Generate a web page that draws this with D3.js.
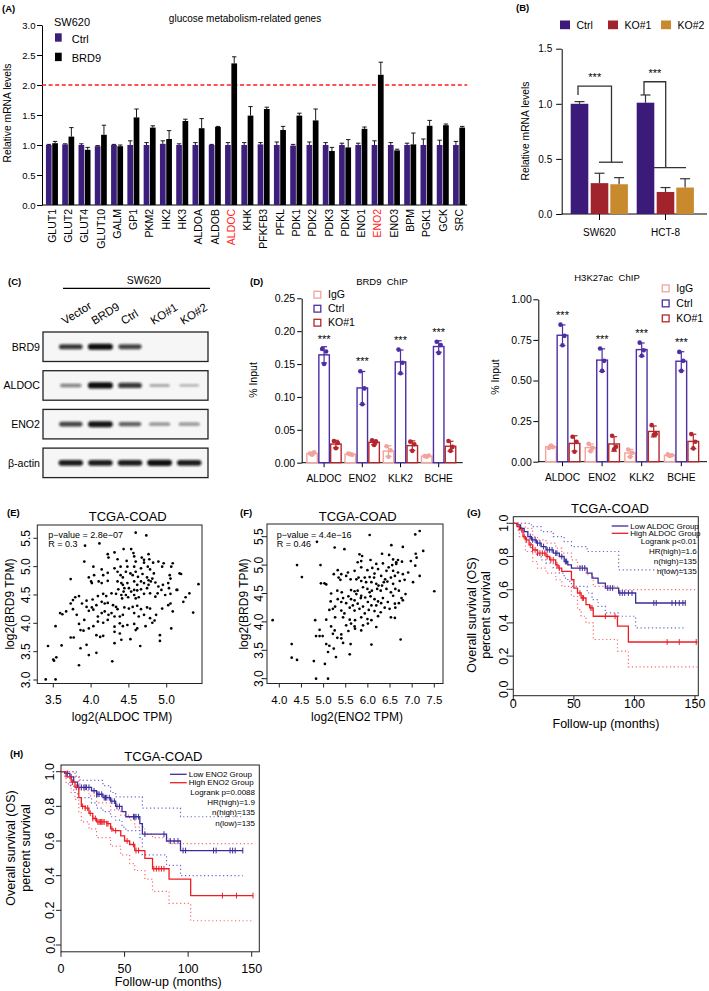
<!DOCTYPE html>
<html><head><meta charset="utf-8">
<script src="https://cdn.jsdelivr.net/npm/d3@7"></script>
<style>body{margin:0;background:#fff}svg{display:block}</style>
</head><body>
<script>
// ---------------- DATA ----------------
// Panel A
const genes = ["GLUT1","GLUT2","GLUT4","GLUT10","GALM","GP1","PKM2","HK2","HK3","ALDOA","ALDOB","ALDOC","KHK","PFKFB3","PFKL","PDK1","PDK2","PDK3","PDK4","ENO1","ENO2","ENO3","BPM","PGK1","GCK","SRC"];
const aCtrl    = [1.00,1.01,1.00,0.98,1.00,1.00,1.00,1.02,1.00,1.00,1.00,1.00,1.00,1.01,1.00,0.99,1.00,1.00,1.00,1.00,1.00,1.00,1.00,1.00,1.00,1.00];
const aCtrlErr = [0.01,0.01,0.02,0.01,0.01,0.07,0.04,0.05,0.02,0.04,0.01,0.04,0.04,0.03,0.05,0.02,0.05,0.04,0.03,0.03,0.07,0.04,0.03,0.10,0.08,0.06];
const aBRD9    = [1.03,1.14,0.92,1.17,0.98,1.46,1.29,1.10,1.40,1.28,1.30,2.36,1.49,1.60,1.25,1.49,1.41,0.90,0.96,1.27,2.17,0.91,1.01,1.32,1.33,1.29];
const aBRD9Err = [0.03,0.15,0.04,0.16,0.02,0.14,0.03,0.14,0.03,0.16,0.01,0.11,0.15,0.03,0.06,0.04,0.19,0.06,0.13,0.03,0.21,0.02,0.19,0.09,0.02,0.02];
const aHighlight = ["ALDOC","ENO2"];
const aTicks = [0,0.5,1.0,1.5,2.0,2.5,3.0];
const aThreshold = 2.0;

// Panel B
const bCells = ["SW620","HCT-8"];
const bGroups = ["Ctrl","KO#1","KO#2"];
const bCtrl = [1.00,1.01], bCtrlErr = [0.02,0.07];
const bKO1  = [0.28,0.20], bKO1Err  = [0.09,0.04];
const bKO2  = [0.27,0.24], bKO2Err  = [0.06,0.08];
const bTicks = [0,0.5,1.0,1.5];
const bBracketStart = [1.08,1.08], bBracketTop = [1.16,1.20], bBracketLow = [0.47,0.42];

// Panel C (western blot band intensities, 0..1)
const lanes = ["Vector","BRD9","Ctrl","KO#1","KO#2"];
const blotRows = ["BRD9","ALDOC","ENO2","β-actin"];
const bandBRD9  = [0.78,1.00,0.72,0,0];
const bandALDOC = [0.40,1.00,0.78,0.22,0.15];
const bandENO2  = [0.72,0.95,0.58,0.33,0.32];
const bandActin = [0.92,0.92,0.92,0.98,0.92];

// Panel D (ChIP-qPCR replicates, % input)
const chipTargets = ["ALDOC","ENO2","KLK2","BCHE"];
const chipGroups = ["IgG","Ctrl","KO#1"];
const brd9IgG  = [[0.014,0.016,0.012],[0.014,0.012,0.013],[0.025,0.019,0.009],[0.010,0.011,0.009]];
const brd9Ctrl = [[0.173,0.169,0.150],[0.139,0.113,0.089],[0.172,0.152,0.136],[0.184,0.179,0.167]];
const brd9KO   = [[0.033,0.030,0.022],[0.034,0.032,0.027],[0.032,0.028,0.018],[0.033,0.024,0.018]];
const h3IgG    = [[0.085,0.090,0.100],[0.110,0.085,0.065],[0.075,0.055,0.030],[0.045,0.040,0.035]];
const h3Ctrl   = [[0.844,0.775,0.717],[0.697,0.621,0.559],[0.733,0.686,0.652],[0.676,0.621,0.559]];
const h3KO     = [[0.154,0.123,0.061],[0.160,0.092,0.076],[0.225,0.170,0.164],[0.170,0.123,0.082]];
const brd9Ticks = [0,0.05,0.10,0.15,0.20,0.25];
const h3Ticks = [0,0.25,0.50,0.75,1.00];

// Panel E: log2(ALDOC TPM) vs log2(BRD9 TPM)
const scatterE = [
[4.59,5.60],[4.73,5.55],[3.92,5.37],[4.11,5.41],[4.43,5.31],[4.53,5.31],
[4.22,5.22],[4.31,5.25],[4.56,5.24],[4.57,5.18],[4.67,5.16],[4.76,5.22],[4.23,5.16],[4.35,5.13],[4.70,5.12],[4.77,5.13],
[3.91,5.09],[4.47,5.10],[4.59,5.09],[4.70,5.07],[4.82,5.07],[4.89,5.09],[4.96,5.06],[5.08,5.06],[4.14,4.95],[4.03,5.00],[4.31,4.97],[4.39,5.00],[4.48,5.00],[4.57,5.00],[4.66,4.97],[4.75,5.00],[4.78,4.95],[4.94,5.00],[5.06,5.00],
[3.73,4.78],[3.97,4.81],[4.00,4.74],[4.04,4.85],[4.16,4.85],[4.22,4.89],[4.35,4.91],[4.39,4.85],[4.42,4.81],[4.46,4.91],[4.52,4.88],[4.55,4.85],[4.59,4.91],[4.62,4.82],[4.68,4.87],[4.74,4.81],[4.76,4.76],[4.81,4.79],[4.83,4.88],[5.04,4.85],[5.05,4.79],[5.17,4.88],[5.19,4.87],
[4.01,4.71],[4.10,4.74],[4.14,4.71],[4.22,4.75],[4.35,4.74],[4.40,4.71],[4.42,4.68],[4.48,4.71],[4.57,4.74],[4.61,4.68],[4.66,4.74],[4.70,4.71],[4.76,4.68],[4.79,4.74],[4.85,4.72],[4.89,4.65],[4.93,4.59],[4.95,4.68],[5.02,4.71],[5.03,4.62],[5.13,4.59],[4.36,4.60],[4.44,4.62],[4.50,4.62],[4.57,4.59],[4.43,4.56],[4.53,4.56],[4.61,4.58],[4.66,4.60],[4.74,4.62],
[3.84,4.48],[3.94,4.40],[4.02,4.42],[4.09,4.48],[4.16,4.52],[4.20,4.48],[4.27,4.53],[4.33,4.52],[4.40,4.50],[4.41,4.44],[4.46,4.50],[4.49,4.46],[4.57,4.50],[4.59,4.44],[4.63,4.46],[4.70,4.52],[4.78,4.53],[4.85,4.47],[4.88,4.53],[4.98,4.50],[5.05,4.52],[5.14,4.59],[5.25,4.46],[5.30,4.53],[5.42,4.69],[5.22,4.38],[5.05,4.35],[5.35,4.19],
[3.73,4.35],[3.76,4.41],[3.79,4.46],[3.76,4.25],[3.88,4.35],[3.94,4.29],[4.01,4.28],[4.07,4.32],[4.14,4.38],[4.18,4.35],[4.22,4.36],[4.29,4.32],[4.33,4.29],[4.35,4.25],[4.44,4.28],[4.50,4.26],[4.55,4.29],[4.61,4.31],[4.66,4.25],[4.74,4.28],[4.78,4.26],[4.94,4.26],[5.02,4.32],
[3.59,4.18],[3.62,4.16],[3.67,4.21],[3.81,4.15],[3.97,4.22],[4.03,4.24],[4.09,4.12],[4.14,4.18],[4.18,4.21],[4.23,4.15],[4.27,4.18],[4.31,4.12],[4.38,4.12],[4.42,4.15],[4.57,4.18],[4.63,4.12],[4.70,4.15],[4.78,4.09],[4.86,4.15],[5.08,4.21],
[3.53,3.95],[3.84,3.99],[3.91,4.06],[3.97,3.91],[4.03,3.95],[4.09,4.03],[4.16,4.01],[4.22,4.06],[4.31,3.94],[4.38,4.00],[4.42,3.95],[4.48,3.97],[4.57,3.99],[4.61,3.91],[4.72,3.95],[4.81,4.01],[4.84,4.05],[5.06,3.91],
[3.73,3.75],[3.77,3.75],[3.86,3.88],[3.90,3.87],[4.07,3.79],[4.12,3.76],[4.16,3.78],[4.31,3.85],[4.38,3.82],[4.52,3.72],[4.59,3.88],[4.91,3.79],
[3.43,3.60],[3.61,3.61],[3.86,3.56],[3.94,3.62],[4.07,3.48],[4.31,3.65],[4.40,3.71],[4.65,3.60],[4.91,3.69],[3.97,3.44],
[3.50,3.36],[3.54,3.40],[3.51,3.34],[3.84,3.26],[4.28,3.33],[3.40,3.01],[3.53,3.01]
];
const eXTicks = [3.5,4.0,4.5,5.0];

// Panel F: log2(ENO2 TPM) vs log2(BRD9 TPM)
const scatterF = [
[7.17,5.60],[7.07,5.54],[6.04,5.53],[4.85,5.41],[7.25,5.25],[5.25,5.31],[5.47,5.28],[6.53,5.35],[6.79,5.32],
[5.81,5.19],[5.87,5.16],[6.32,5.20],[6.48,5.18],[7.08,5.20],[7.10,5.13],[5.85,5.07],[5.77,5.05],[6.06,5.09],[6.57,5.10],[6.68,5.09],[6.77,5.06],[6.64,5.05],[6.97,5.07],
[4.40,5.00],[4.93,5.00],[6.19,5.02],[6.34,5.03],[6.47,4.96],[6.55,5.00],[6.64,5.02],[5.32,4.91],[5.23,4.84],[5.40,4.84],[5.55,4.87],[5.70,4.90],[5.85,4.96],[5.99,4.91],[6.10,4.95],[6.15,4.85],[6.23,4.93],[6.42,4.90],[6.57,4.90],[6.68,4.87],[6.79,4.84],[6.91,4.87],[7.07,4.99],
[4.51,4.79],[5.34,4.78],[5.38,4.74],[5.51,4.81],[5.61,4.75],[5.74,4.75],[5.79,4.78],[5.93,4.78],[6.04,4.79],[6.14,4.78],[6.30,4.81],[6.39,4.75],[6.52,4.78],[6.61,4.81],[6.72,4.72],[7.02,4.70],[7.17,4.81],[4.94,4.68],[5.02,4.68],[5.06,4.66],[5.85,4.72],[5.96,4.70],[6.08,4.70],[6.19,4.67],[6.24,4.64],[6.32,4.64],[6.36,4.70],[6.44,4.71],[6.57,4.67],[6.83,4.74],
[7.50,4.54],[5.17,4.50],[5.31,4.55],[5.41,4.52],[5.62,4.56],[5.70,4.54],[5.77,4.55],[5.89,4.61],[5.99,4.58],[6.04,4.52],[6.09,4.55],[6.21,4.58],[6.29,4.55],[6.42,4.58],[6.52,4.52],[6.62,4.58],[6.70,4.55],[5.74,4.49],[5.85,4.46],[5.32,4.40],[5.44,4.42],[5.56,4.45],[5.62,4.40],[5.70,4.38],[5.84,4.42],[5.94,4.43],[6.06,4.45],[6.15,4.40],[6.23,4.36],[6.34,4.42],[6.57,4.46],[6.76,4.42],[6.79,4.38],[6.85,4.49],
[3.85,4.03],[5.16,4.36],[5.26,4.27],[5.40,4.35],[5.51,4.33],[5.66,4.29],[5.77,4.32],[5.89,4.27],[6.00,4.35],[6.08,4.29],[6.19,4.29],[6.30,4.33],[6.45,4.35],[6.61,4.32],[6.70,4.33],[5.13,4.21],[5.21,4.23],[5.40,4.20],[5.47,4.15],[5.59,4.25],[5.70,4.20],[5.81,4.23],[5.93,4.15],[6.02,4.21],[6.15,4.19],[6.29,4.17],[6.38,4.25],[6.49,4.23],[6.62,4.25],[6.52,4.08],[6.61,4.07],
[4.81,4.03],[5.06,4.04],[5.26,4.08],[5.44,4.08],[5.59,4.04],[5.71,4.03],[5.85,4.08],[5.99,4.05],[6.08,4.03],[6.23,4.10],[5.51,3.94],[5.62,3.97],[5.70,3.92],[5.89,3.94],[6.00,3.97],[6.19,3.91],[5.17,3.92],[5.25,3.85],[4.91,3.86],[4.83,3.75],[4.91,3.75],[4.98,3.75],[5.21,3.79],[5.40,3.78],[5.56,3.84],[5.71,3.88],[5.85,3.85],
[5.31,3.72],[5.40,3.71],[5.44,3.63],[5.61,3.61],[6.74,3.69],[5.06,3.61],[5.13,3.58],[5.10,3.47],[5.23,3.53],[5.28,3.38],[6.08,3.60],[5.59,3.43],[4.28,3.61],[4.28,3.37],[4.40,3.33],[4.78,3.31],[5.03,3.26],[4.83,3.00],[5.10,3.00]
];
const fXTicks = [4.0,4.5,5.0,5.5,6.0,6.5,7.0,7.5];
const scatterYTicks = [3.0,3.5,4.0,4.5,5.0,5.5];

// Panel G: Kaplan-Meier, ALDOC
const gLowSteps  = [[0,1.0],[3,0.99],[6,0.97],[9,0.95],[12,0.92],[15,0.90],[19,0.88],[23,0.86],[27,0.84],[33,0.82],[38,0.80],[42,0.77],[45,0.75],[48,0.73],[61,0.70],[65,0.67],[70,0.64],[76,0.61],[87,0.58],[101,0.52]];
const gLowEnd = 142;
const gLowCensor = [14,16,18,20,22,25,28,30,32,35,36,40,43,44,55,57,59,78,80,82,88,90,92,95,98,116,118,131,134,137,140,142];
const gLowUpper = [[0,1.0],[9,1.0],[15,0.98],[23,0.95],[33,0.92],[42,0.89],[48,0.86],[61,0.83],[87,0.72]];
const gLowLower = [[0,1.0],[4,0.96],[9,0.91],[15,0.84],[19,0.81],[23,0.78],[27,0.76],[33,0.73],[38,0.70],[42,0.67],[45,0.65],[48,0.62],[61,0.58],[65,0.54],[70,0.50],[76,0.46],[87,0.44],[101,0.37]];
const gHighSteps = [[0,1.0],[3,0.98],[5,0.96],[8,0.92],[10,0.90],[13,0.87],[16,0.84],[20,0.82],[27,0.80],[30,0.78],[35,0.75],[37,0.73],[40,0.71],[48,0.66],[50,0.61],[53,0.58],[56,0.55],[60,0.51],[63,0.49],[66,0.44],[86,0.38],[95,0.285]];
const gHighEnd = 152;
const gHighCensor = [7,9,11,14,16,18,20,22,24,26,28,31,33,36,38,55,57,58,64,65,76,84,127,137,151];
const gHighUpper = [[0,1.0],[5,1.0],[10,0.97],[16,0.92],[20,0.90],[27,0.88],[35,0.85],[40,0.82],[48,0.78],[53,0.74],[60,0.69],[66,0.62],[86,0.60]];
const gHighLower = [[0,1.0],[5,0.92],[10,0.83],[16,0.77],[20,0.73],[27,0.70],[35,0.66],[40,0.62],[48,0.56],[53,0.48],[56,0.44],[60,0.40],[66,0.30],[86,0.23],[95,0.135]];
const gStats = ["Logrank p<0.01","HR(high)=1.6","n(high)=135","n(low)=135"];

// Panel H: Kaplan-Meier, ENO2
const hLowSteps = [[0,1.0],[3,0.99],[7,0.97],[10,0.94],[13,0.91],[24,0.89],[28,0.87],[33,0.85],[39,0.83],[43,0.80],[48,0.77],[51,0.74],[62,0.70],[64,0.64],[83,0.60],[94,0.545]];
const hLowEnd = 143;
const hLowCensor = [5,8,14,16,18,19,20,22,26,28,29,30,32,34,35,36,38,40,42,44,46,57,58,59,61,66,81,86,89,92,96,98,120,122,133,135,137,143];
const hLowUpper = [[0,1.0],[8,1.0],[12,0.97],[15,0.95],[33,0.92],[39,0.88],[43,0.855],[64,0.79],[94,0.74]];
const hLowLower = [[0,1.0],[3,0.97],[7,0.92],[10,0.88],[13,0.85],[24,0.82],[28,0.79],[33,0.77],[39,0.74],[43,0.72],[48,0.68],[51,0.66],[62,0.62],[64,0.52],[83,0.46],[94,0.40]];
const hHighSteps = [[0,1.0],[4,0.97],[8,0.94],[11,0.91],[14,0.85],[16,0.80],[19,0.79],[22,0.76],[25,0.73],[28,0.71],[36,0.70],[39,0.67],[41,0.66],[47,0.63],[50,0.60],[54,0.58],[58,0.545],[66,0.50],[72,0.44],[85,0.38],[102,0.285]];
const hHighEnd = 151;
const hHighCensor = [9,12,17,19,21,23,25,27,29,30,31,32,33,34,36,37,40,43,52,57,59,61,73,75,77,79,81,127,138,151];
const hHighUpper = [[0,1.0],[8,1.0],[11,0.97],[14,0.93],[16,0.89],[22,0.86],[28,0.82],[39,0.78],[47,0.75],[54,0.72],[58,0.68],[66,0.64],[72,0.62],[85,0.585]];
const hHighLower = [[0,1.0],[4,0.93],[8,0.88],[11,0.84],[14,0.77],[16,0.71],[22,0.67],[28,0.62],[39,0.57],[47,0.52],[54,0.47],[58,0.43],[66,0.38],[72,0.31],[85,0.24],[102,0.14]];
const hStats = ["Logrank p=0.0088","HR(high)=1.9","n(high)=135","n(low)=135"];
const kmXTicks = [0,50,100,150];
const kmYTicks = [0,0.2,0.4,0.6,0.8,1.0];

// ---------------- DRAWING ----------------
const FONT = "'Liberation Sans', Arial, Helvetica, sans-serif";
const svg = d3.select("body").append("svg").attr("width",709).attr("height",991).style("font-family",FONT);
svg.append("rect").attr("width",709).attr("height",991).attr("fill","#fff");

function T(g,x,y,s,o={}){
  const t=g.append("text").attr("x",x).attr("y",y).text(s)
    .attr("font-size",o.size||10).attr("fill",o.fill||"#000").attr("text-anchor",o.anchor||"start");
  if(o.weight) t.attr("font-weight",o.weight);
  if(o.rotate!==undefined) t.attr("transform",`rotate(${o.rotate},${x},${y})`);
  return t;
}
function sty(sel,fs){
  sel.attr("font-family",FONT).attr("font-size",fs);
  sel.select(".domain").attr("stroke","#000").attr("stroke-width",1);
  sel.selectAll(".tick line").attr("stroke","#000").attr("stroke-width",1);
  sel.selectAll(".tick text").attr("fill","#000");
}
function L(g,x1,y1,x2,y2,c,w){return g.append("line").attr("x1",x1).attr("y1",y1).attr("x2",x2).attr("y2",y2).attr("stroke",c||"#000").attr("stroke-width",w||1);}

// panel letters
[["(A)",2,12],["(B)",516,11],["(C)",8,285],["(D)",250,285],["(E)",7,516],["(F)",240,516],["(G)",467,516],["(H)",10,757]]
 .forEach(p=>T(svg,p[1],p[2],p[0],{size:9.5,weight:"bold"}));

// ===== Panel A =====
(function(){
  const g=svg.append("g");
  const purple="#3c1f7d";
  const x=d3.scaleBand().domain(genes).range([43.8,467.2]);
  const y=d3.scaleLinear().domain([0,3]).range([205,25]);
  const axX=42;
  g.append("g").attr("transform",`translate(${axX},0)`)
   .call(d3.axisLeft(y).tickValues(aTicks).tickFormat(d3.format(".1f")).tickSize(5).tickPadding(1.5).tickSizeOuter(0))
   .call(sty,9.5);
  L(g,axX,y(0),x.range()[1],y(0));
  g.append("line").attr("x1",axX).attr("x2",x.range()[1]).attr("y1",y(aThreshold)).attr("y2",y(aThreshold))
   .attr("stroke","#ff1a1a").attr("stroke-width",1.3).attr("stroke-dasharray","4,2.6");
  const c=d=>x(d)+x.bandwidth()/2;
  const series=[{v:aCtrl,e:aCtrlErr,off:-6,col:purple},{v:aBRD9,e:aBRD9Err,off:0.3,col:"#000"}];
  series.forEach(s=>{
    g.append("g").selectAll("rect").data(genes).join("rect")
      .attr("x",d=>c(d)+s.off).attr("width",5.7)
      .attr("y",(d,i)=>y(s.v[i])).attr("height",(d,i)=>y(0)-y(s.v[i])).attr("fill",s.col);
    genes.forEach((d,i)=>{
      const cx=c(d)+s.off+2.85, top=y(s.v[i]+s.e[i]);
      L(g,cx,y(s.v[i]),cx,top,"#000",0.9);
      L(g,cx-2.2,top,cx+2.2,top,"#000",0.9);
    });
  });
  genes.forEach(d=>T(g,c(d)+3.8,209,d,{size:10.5,anchor:"end",rotate:-90,fill:aHighlight.includes(d)?"#ff1a1a":"#000"}));
  T(g,10.6,113,"Relative mRNA levels",{size:10.3,anchor:"middle",rotate:-90});
  T(g,245,21.5,"glucose metabolism-related genes",{size:10,anchor:"middle"});
  T(g,54,25.5,"SW620",{size:11});
  g.append("rect").attr("x",55).attr("y",33.3).attr("width",6.7).attr("height",8.4).attr("fill",purple);
  T(g,71.7,42.5,"Ctrl",{size:11});
  g.append("rect").attr("x",55).attr("y",52.7).attr("width",6.7).attr("height",8.4).attr("fill","#000");
  T(g,71.7,61.5,"BRD9",{size:11});
})();

// ===== Panel B =====
(function(){
  const g=svg.append("g");
  const cols=["#3c1a7a","#a1232b","#c98a2e"];
  const vals=[bCtrl,bKO1,bKO2], errs=[bCtrlErr,bKO1Err,bKO2Err];
  const offs=[-20,0,19.6], bw=17.6;
  const x=d3.scaleBand().domain(bCells).range([566.5,698.5]);
  const y=d3.scaleLinear().domain([0,1.5]).range([214,48.7]);
  const axX=561.7;
  g.append("g").attr("transform",`translate(${axX},0)`)
   .call(d3.axisLeft(y).tickValues(bTicks).tickFormat(d3.format(".1f")).tickSize(5.5).tickPadding(4).tickSizeOuter(0))
   .call(sty,10);
  const xa=g.append("g").attr("transform",`translate(0,${y(0)})`)
   .call(d3.axisBottom(x).tickSize(6).tickPadding(9).tickSizeOuter(0)).call(sty,10);
  xa.select(".domain").remove();
  L(g,axX,y(0),707,y(0));
  const c=d=>x(d)+x.bandwidth()/2;
  bCells.forEach((cell,ci)=>{
    bGroups.forEach((gr,gi)=>{
      const cx=c(cell)+offs[gi], v=vals[gi][ci], e=errs[gi][ci];
      g.append("rect").attr("x",cx-bw/2).attr("width",bw).attr("y",y(v)).attr("height",y(0)-y(v)).attr("fill",cols[gi]);
      L(g,cx,y(v),cx,y(v+e),"#333",1.2);
      L(g,cx-5,y(v+e),cx+5,y(v+e),"#333",1.2);
    });
  });
  // significance brackets
  const rightOff=[12,0.2], lowSpan=[[-0.5,23.5],[-12.5,20.5]];
  bCells.forEach((cell,ci)=>{
    const lx=c(cell)+offs[0]-1.5, rx=c(cell)+rightOff[ci];
    const p=d3.path();
    p.moveTo(lx,y(bBracketStart[ci])); p.lineTo(lx,y(bBracketTop[ci])); p.lineTo(rx,y(bBracketTop[ci])); p.lineTo(rx,y(bBracketLow[ci]));
    g.append("path").attr("d",p.toString()).attr("fill","none").attr("stroke","#333").attr("stroke-width",1.3);
    L(g,c(cell)+lowSpan[ci][0],y(bBracketLow[ci]),c(cell)+lowSpan[ci][1],y(bBracketLow[ci]),"#333",1.3);
    T(g,(lx+rx)/2,y(bBracketTop[ci])-5,"***",{size:11,anchor:"middle"});
  });
  T(g,529,131,"Relative mRNA levels",{size:10.3,anchor:"middle",rotate:-90});
  const legX=[560,608,661];
  bGroups.forEach((gr,gi)=>{
    g.append("rect").attr("x",legX[gi]).attr("y",20.5).attr("width",10).attr("height",8.7).attr("fill",cols[gi]);
    T(g,legX[gi]+16.5,29,gr,{size:10.5});
  });
})();

// ===== Panel C =====
(function(){
  const g=svg.append("g");
  const defs=svg.append("defs");
  defs.append("filter").attr("id","blot").attr("x","-30%").attr("y","-100%").attr("width","160%").attr("height","300%")
    .append("feGaussianBlur").attr("stdDeviation","1.3 0.8");
  const x=d3.scaleBand().domain(lanes).range([56,204]);
  const y=d3.scaleBand().domain(blotRows).range([332,477.6]).paddingInner(0.238);
  const levels=[bandBRD9,bandALDOC,bandENO2,bandActin];
  T(g,144,284,"SW620",{size:10.5,anchor:"middle"});
  L(g,63,288.3,210,288.3,"#000",1.2);
  lanes.forEach(l=>T(g,x(l)+x.bandwidth()/2-6,325,l,{size:11.5,rotate:-32}));
  blotRows.forEach((r,ri)=>{
    const top=y(r), h=y.bandwidth(), cy=top+h/2;
    g.append("rect").attr("x",43).attr("y",top).attr("width",165).attr("height",h).attr("fill","#f6f6f6").attr("stroke","#222").attr("stroke-width",1.3);
    const bg=g.append("g").attr("filter","url(#blot)");
    lanes.forEach((l,li)=>{
      const v=levels[ri][li]; if(v<=0) return;
      const th=1.6+4.6*v, w=19+6*v;
      bg.append("rect").attr("x",x(l)+x.bandwidth()/2-w/2).attr("y",cy-th/2).attr("width",w).attr("height",th)
        .attr("rx",th/2).attr("fill","#111").attr("opacity",0.2+0.8*v);
    });
    T(g,40,cy+3.8,r,{size:10.6,anchor:"end"});
  });
})();

// ===== Panel D =====
function drawChIP(cfg){
  const g=svg.append("g");
  const cols=["#f3a39c","#4d2ea3","#b3262c"];
  const offs=cfg.offs, bw=cfg.bw;
  const x=d3.scaleBand().domain(chipTargets).range(cfg.xr);
  const y=d3.scaleLinear().domain([0,cfg.ymax]).range([cfg.y0,cfg.y1]);
  g.append("g").attr("transform",`translate(${cfg.axX},0)`)
   .call(d3.axisLeft(y).tickValues(cfg.ticks).tickFormat(d3.format(".2f")).tickSize(cfg.ts).tickPadding(cfg.tp).tickSizeOuter(0))
   .call(sty,10.5);
  const xa=g.append("g").attr("transform",`translate(0,${cfg.y0})`)
   .call(d3.axisBottom(x).tickSize(4.5).tickPadding(8).tickSizeOuter(0)).call(sty,10.2);
  xa.select(".domain").remove();
  L(g,cfg.axX,cfg.y0,cfg.xEnd,cfg.y0);
  const c=d=>x(d)+x.bandwidth()/2;
  const dotOff=[-2,2,0];
  chipTargets.forEach((t,ti)=>{
    cfg.data.forEach((ser,si)=>{
      const reps=ser[ti], m=d3.mean(reps), sd=d3.deviation(reps);
      const cx=c(t)+offs[si];
      g.append("rect").attr("x",cx-bw/2).attr("y",y(m)).attr("width",bw).attr("height",cfg.y0-y(m))
        .attr("fill","#fff").attr("stroke",cols[si]).attr("stroke-width",1.4);
      L(g,cx,y(Math.max(0,m-sd)),cx,y(m+sd),cols[si],1.2);
      L(g,cx-3,y(m+sd),cx+3,y(m+sd),cols[si],1.2);
      L(g,cx-3,y(Math.max(0,m-sd)),cx+3,y(Math.max(0,m-sd)),cols[si],1.2);
      reps.forEach((v,ri)=>g.append("circle").attr("cx",cx+dotOff[ri]).attr("cy",y(v)).attr("r",2.3).attr("fill",cols[si]));
    });
    const mx=d3.max(cfg.data[1][ti]);
    T(g,c(t),y(mx)-6,"***",{size:11,anchor:"middle"});
  });
  T(g,cfg.ylabX,cfg.ylabY,"% Input",{size:10.5,anchor:"middle",rotate:-90});
  T(g,cfg.titleX,cfg.titleY,cfg.title,{size:9.5,anchor:"middle"}).attr("xml:space","preserve");
  chipGroups.forEach((gr,gi)=>{
    g.append("rect").attr("x",cfg.legX).attr("y",cfg.legY+gi*cfg.legDy).attr("width",6.8).attr("height",6.8)
      .attr("fill","#fff").attr("stroke",cols[gi]).attr("stroke-width",1.3);
    T(g,cfg.legX+14,cfg.legY+gi*cfg.legDy+7,gr,{size:10.5});
  });
}
drawChIP({xr:[305,457.8],ymax:0.25,y0:462.7,y1:298.3,axX:301.7,xEnd:462.7,ticks:brd9Ticks,ts:4.5,tp:2,
  offs:[-12,0,11.8],bw:10.5,data:[brd9IgG,brd9Ctrl,brd9KO],ylabX:257,ylabY:380,
  title:"BRD9  ChIP",titleX:382,titleY:285,legX:314,legY:291.3,legDy:14});
drawChIP({xr:[542.7,701.1],ymax:1.0,y0:461.7,y1:299.3,axX:538.3,xEnd:707,ticks:h3Ticks,ts:5,tp:1.5,
  offs:[-11.5,0,12],bw:10.7,data:[h3IgG,h3Ctrl,h3KO],ylabX:498.8,ylabY:377,
  title:"H3K27ac  ChIP",titleX:607,titleY:281,legX:662.3,legY:285,legDy:15});

// ===== Panels E, F =====
function drawScatter(cfg){
  const g=svg.append("g");
  const x=d3.scaleLinear().domain(cfg.xd).range(cfg.xr);
  const y=d3.scaleLinear().domain([3.0,5.5]).range(cfg.yr);
  g.append("rect").attr("x",cfg.L).attr("y",cfg.T).attr("width",cfg.R-cfg.L).attr("height",cfg.B-cfg.T)
    .attr("fill","none").attr("stroke","#222").attr("stroke-width",1);
  g.selectAll("circle").data(cfg.pts).join("circle").attr("cx",d=>x(d[0])).attr("cy",d=>y(d[1])).attr("r",1.35).attr("fill","#000");
  const f=d3.format(".1f");
  cfg.xticks.forEach(v=>{L(g,x(v),cfg.B,x(v),cfg.B+4,"#222");T(g,x(v),704.3,f(v),{size:cfg.fs,anchor:"middle"});});
  scatterYTicks.forEach(v=>{L(g,cfg.L-4,y(v),cfg.L,y(v),"#222");T(g,cfg.yLabX,y(v),f(v),{size:12,anchor:"middle",rotate:-90});});
  T(g,cfg.titleX,521,"TCGA-COAD",{size:13,anchor:"middle"});
  T(g,cfg.xlabX,721,cfg.xlab,{size:12,anchor:"middle"});
  T(g,cfg.ylabX,604,"log2(BRD9 TPM)",{size:12,anchor:"middle",rotate:-90});
  T(g,cfg.statX,538,cfg.p,{size:9});
  T(g,cfg.statX,546.5,cfg.r,{size:9});
}
drawScatter({pts:scatterE,xd:[3.5,5.0],xr:[53.3,166.7],yr:[680,538.3],L:37.3,R:202,T:525,B:683.5,
  xticks:eXTicks,fs:12,yLabX:30,titleX:127.7,xlabX:122,xlab:"log2(ALDOC TPM)",ylabX:14.3,statX:48.3,
  p:"p\u2212value = 2.8e\u221207",r:"R = 0.3"});
drawScatter({pts:scatterF,xd:[4.0,7.5],xr:[279.3,434.3],yr:[678.7,536.7],L:267,R:443,T:524,B:683.5,
  xticks:fXTicks,fs:11.5,yLabX:262.8,titleX:357.7,xlabX:357,xlab:"log2(ENO2 TPM)",ylabX:247.6,statX:276.7,
  p:"p\u2212value = 4.4e\u221216",r:"R = 0.46"});

// ===== Panels G, H =====
function drawKM(cfg){
  const g=svg.append("g");
  const x=d3.scaleLinear().domain([0,150]).range([cfg.x0,cfg.x150]);
  const y=d3.scaleLinear().domain([0,1]).range([cfg.y0,cfg.y1]);
  const Lx=x(0);
  g.append("rect").attr("x",Lx).attr("y",cfg.top).attr("width",cfg.right-Lx).attr("height",cfg.bottom-cfg.top)
    .attr("fill","none").attr("stroke","#222").attr("stroke-width",1);
  const line=d3.line().x(d=>x(d[0])).y(d=>y(d[1])).curve(d3.curveStepAfter);
  const ext=(s,end)=>s.concat([[end,s[s.length-1][1]]]);
  cfg.series.forEach(s=>{
    [s.upper,s.lower].forEach(ci=>g.append("path").attr("d",line(ext(ci,s.end))).attr("fill","none")
      .attr("stroke",s.ci).attr("stroke-width",1.2).attr("stroke-dasharray","1.2,2.6"));
  });
  const bis=d3.bisector(d=>d[0]).right;
  cfg.series.forEach(s=>{
    g.append("path").attr("d",line(ext(s.steps,s.end))).attr("fill","none").attr("stroke",s.color).attr("stroke-width",1.3);
    s.censor.forEach(t=>{const v=s.steps[bis(s.steps,t)-1][1];L(g,x(t),y(v)-2.9,x(t),y(v)+2.9,s.color,1);});
  });
  kmYTicks.forEach(v=>{L(g,Lx-5,y(v),Lx,y(v),"#222");T(g,cfg.yLabX,y(v),d3.format(".1f")(v),{size:12.5,anchor:"middle",rotate:-90});});
  kmXTicks.forEach(v=>{L(g,x(v),cfg.bottom,x(v),cfg.bottom+5,"#222");T(g,x(v),cfg.xLabY,String(v),{size:12.5,anchor:"middle"});});
  T(g,cfg.titleX,cfg.titleY,"TCGA-COAD",{size:13,anchor:"middle"});
  T(g,cfg.xTitleX,cfg.xTitleY,"Follow-up (months)",{size:12.5,anchor:"middle"});
  T(g,cfg.yT1,cfg.yTY,"Overall survival (OS)",{size:12.5,anchor:"middle",rotate:-90});
  T(g,cfg.yT2,cfg.yTY,"percent survival",{size:12.5,anchor:"middle",rotate:-90});
  cfg.series.forEach((s,i)=>{
    const ly=cfg.legY+i*cfg.legDy;
    L(g,cfg.legX1,ly,cfg.legX2,ly,s.color,1.3);
    T(g,cfg.legX2+2,ly+2.7,s.label,{size:8});
  });
  cfg.stats.forEach((s,i)=>T(g,cfg.statX,cfg.statY[i],s,{size:8,anchor:"end"}));
}
const kmBlue="#3a2d9b", kmRed="#ee1c25", ciBlue="#6d66cc", ciRed="#fb6a6a";
drawKM({x0:513.3,x150:695,y0:689.3,y1:523.3,right:698.3,top:516.7,bottom:695.7,
  series:[{steps:gLowSteps,end:gLowEnd,censor:gLowCensor,upper:gLowUpper,lower:gLowLower,color:kmBlue,ci:ciBlue,label:"Low ALDOC Group"},
          {steps:gHighSteps,end:gHighEnd,censor:gHighCensor,upper:gHighUpper,lower:gHighLower,color:kmRed,ci:ciRed,label:"High ALDOC Group"}],
  yLabX:507.8,xLabY:708,titleX:610,titleY:512.5,xTitleX:606,xTitleY:728,yT1:476.2,yT2:489.5,yTY:615,
  legX1:611.7,legX2:628.3,legY:526,legDy:7.3,stats:gStats,statX:696.7,statY:[544.3,554.3,564.3,574.3]});
drawKM({x0:61,x150:251.7,y0:945,y1:771.7,right:259.3,top:765,bottom:951.8,
  series:[{steps:hLowSteps,end:hLowEnd,censor:hLowCensor,upper:hLowUpper,lower:hLowLower,color:kmBlue,ci:ciBlue,label:"Low ENO2 Group"},
          {steps:hHighSteps,end:hHighEnd,censor:hHighCensor,upper:hHighUpper,lower:hHighLower,color:kmRed,ci:ciRed,label:"High ENO2 Group"}],
  yLabX:54.5,xLabY:972.8,titleX:163.3,titleY:761,xTitleX:168.3,xTitleY:986,yT1:14.5,yT2:29.5,yTY:848,
  legX1:170,legX2:186.7,legY:774.3,legDy:8.4,stats:hStats,statX:255,statY:[795,804.7,815,825.6]});
</script>
</body></html>
